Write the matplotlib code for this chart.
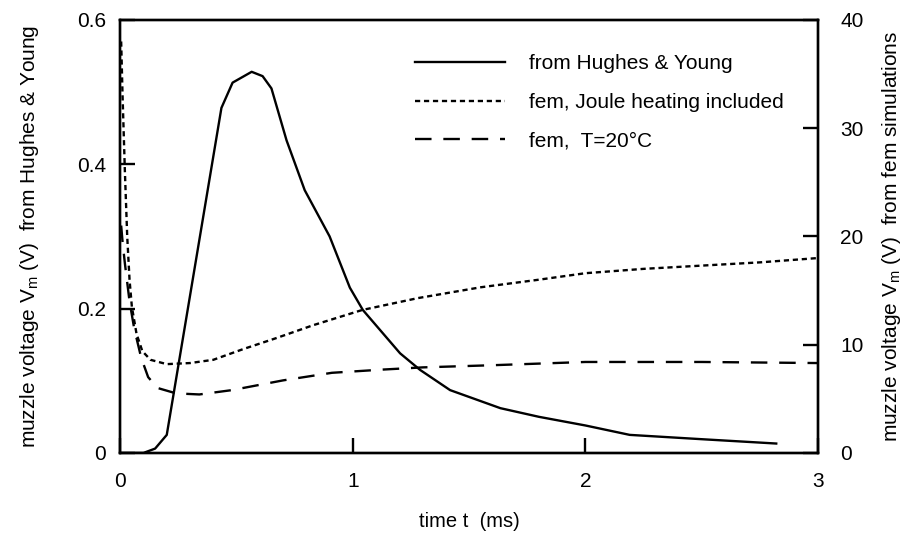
import matplotlib
matplotlib.use("Agg")
import matplotlib.pyplot as plt

plt.rcParams['font.family'] = ['Liberation Sans', 'DejaVu Sans']

# from Hughes & Young (left axis, V)
t_hy = [0.0, 0.10, 0.15, 0.20, 0.435, 0.483, 0.565, 0.612, 0.65, 0.715, 0.793,
        0.90, 0.987, 1.043, 1.203, 1.289, 1.418, 1.634, 1.8, 2.0, 2.19, 2.5, 2.82]
v_hy = [0.0, 0.0, 0.006, 0.025, 0.478, 0.513, 0.528, 0.522, 0.505, 0.433, 0.364,
        0.30, 0.229, 0.198, 0.138, 0.115, 0.087, 0.062, 0.050, 0.038, 0.025, 0.019, 0.013]

# fem, Joule heating included (right axis, V)
t_joule = [0.004, 0.01, 0.02, 0.03, 0.04, 0.05, 0.07, 0.095, 0.13, 0.2, 0.3, 0.4,
           0.53, 0.67, 0.83, 1.04, 1.28, 1.55, 1.8, 2.0, 2.25, 2.5, 2.75, 3.0]
v_joule = [38, 33, 26, 20, 16, 13.5, 11, 9.4, 8.6, 8.2, 8.3, 8.6,
           9.6, 10.6, 11.8, 13.2, 14.3, 15.3, 16.0, 16.6, 17.0, 17.3, 17.6, 18.0]

# fem, T=20°C (right axis, V)
t_cold = [0.004, 0.01, 0.02, 0.04, 0.06, 0.09, 0.12, 0.16, 0.24, 0.34, 0.48, 0.7,
          0.91, 1.13, 1.3, 1.6, 2.0, 2.5, 3.0]
v_cold = [21, 19.5, 17.5, 14, 11.5, 8.8, 7.0, 6.0, 5.5, 5.4, 5.8, 6.7,
          7.4, 7.7, 7.9, 8.1, 8.4, 8.4, 8.3]

fig, ax = plt.subplots(figsize=(9.04, 5.36), dpi=100)
fig.subplots_adjust(left=0.133, right=0.905, top=0.963, bottom=0.155)
ax2 = ax.twinx()

lw = 1.7
l1, = ax.plot(t_hy, v_hy, color='black', lw=lw, label='from Hughes & Young')
l2, = ax2.plot(t_joule, v_joule, color='black', lw=lw, dashes=(2.2, 1.6),
               label='fem, Joule heating included')
l3, = ax2.plot(t_cold, v_cold, color='black', lw=lw, dashes=(7, 5),
               label='fem,  T=20°C')

ax.set_xlim(0, 3)
ax.set_ylim(0, 0.6)
ax2.set_ylim(0, 40)
ax.set_xticks([0, 1, 2, 3])
ax.set_yticks([0, 0.2, 0.4, 0.6])
ax2.set_yticks([0, 10, 20, 30, 40])
ax.set_xticklabels(['0', '1', '2', '3'])
ax.set_yticklabels(['0', '0.2', '0.4', '0.6'])

fs = 15
for a in (ax, ax2):
    a.tick_params(direction='in', length=11, width=1.7, labelsize=fs)
    for s in a.spines.values():
        s.set_linewidth(1.7)
ax.tick_params(axis='y', pad=10)
ax.tick_params(axis='x', pad=14)
ax2.tick_params(axis='y', pad=16)

ax.set_xlabel('time t  (ms)', fontsize=14.5, labelpad=15)
ax.set_ylabel('muzzle voltage V$_\\mathregular{m}$ (V)  from Hughes & Young', fontsize=fs, labelpad=26)
ax2.set_ylabel('muzzle voltage V$_\\mathregular{m}$ (V)  from fem simulations', fontsize=fs, labelpad=12)

ax2.legend(handles=[l1, l2, l3], loc='upper left', bbox_to_anchor=(0.408, 0.945),
           frameon=False, fontsize=fs, handlelength=4.3, handletextpad=1.15,
           labelspacing=0.95, borderpad=0)

fig.savefig('out.png', dpi=100)
